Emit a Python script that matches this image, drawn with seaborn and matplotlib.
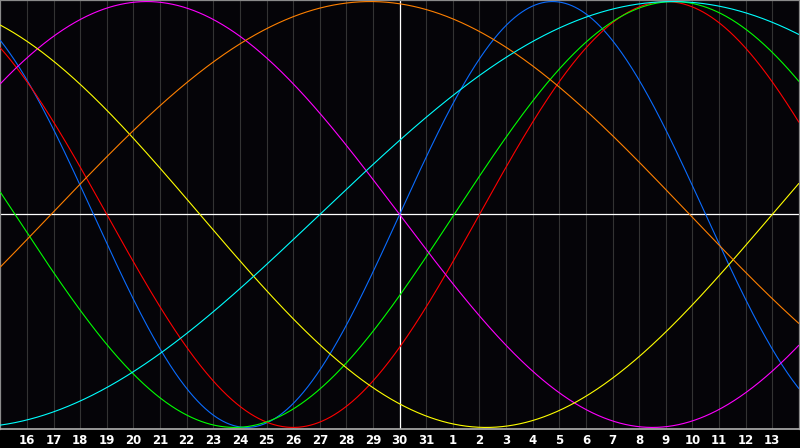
import numpy as np
import pandas as pd
import matplotlib
matplotlib.use("Agg")
import matplotlib.pyplot as plt
import seaborn as sns

# Day labels on the grid lines (positions 1..29 of a 30-day window)
day_labels = [16, 17, 18, 19, 20, 21, 22, 23, 24, 25, 26, 27, 28, 29, 30, 31,
              1, 2, 3, 4, 5, 6, 7, 8, 9, 10, 11, 12, 13]
today_index = 15          # vertical white line (day 30)

# Biorhythm cycles
cycle_names = ["Physical", "Emotional", "Intellectual", "Intuitive",
               "Aesthetic", "Awareness", "Spiritual"]
cycle_periods = [23, 28, 33, 38, 43, 48, 53]            # days
cycle_zero_up = [15.0, 18.0, 17.05, -4.0, 29.0, 1.9, 12.0]  # upward zero crossing (window index)
cycle_colors = ["#0a6cff", "#ff0000", "#00ff00", "#ff00ff",
                "#ffff00", "#ff8000", "#00ffff"]

window_days = 30
t = np.linspace(0, window_days, 1201)
rows = []
for name, p, z in zip(cycle_names, cycle_periods, cycle_zero_up):
    v = np.sin(2 * np.pi * (t - z) / p)
    rows.append(pd.DataFrame({"day": t, "value": v, "cycle": name}))
df = pd.concat(rows, ignore_index=True)

sns.set_style("dark")
plt.rcParams['font.family'] = ['DejaVu Sans']

fig = plt.figure(figsize=(8, 4.48), dpi=100, facecolor="#000000")
ax = fig.add_axes([0.0005, 1 - 428.5 / 448, 0.998, 428.0 / 448])
ax.set_facecolor("#050408")

# grid lines
for k in range(1, window_days):
    ax.axvline(k, color="#333333", lw=0.8, zorder=0)

ax.axhline(0, color="#ffffff", lw=0.9, zorder=1)
ax.axvline(today_index, color="#ffffff", lw=0.9, zorder=1)

sns.lineplot(data=df, x="day", y="value", hue="cycle",
             palette=dict(zip(cycle_names, cycle_colors)),
             linewidth=0.8, legend=False, ax=ax, zorder=3, sort=False,
             estimator=None)

ax.set_xlim(0, window_days)
ax.set_ylim(-1.005, 1.005)
ax.set_xticks(range(1, window_days))
ax.set_xticklabels([str(d) for d in day_labels], color="white",
                   fontsize=8.5, fontweight="bold")
ax.set_yticks([])
ax.set_xlabel("")
ax.set_ylabel("")
ax.tick_params(axis="x", length=0, pad=4)
for side in ["left", "top", "right"]:
    ax.spines[side].set_visible(True)
    ax.spines[side].set_color("#8a8a8a")
    ax.spines[side].set_linewidth(0.9)
ax.spines["bottom"].set_visible(True)
ax.spines["bottom"].set_color("#b0b0b0")
ax.spines["bottom"].set_linewidth(1.2)
ax.grid(False)

fig.savefig("out.png", dpi=100, facecolor="#000000")
